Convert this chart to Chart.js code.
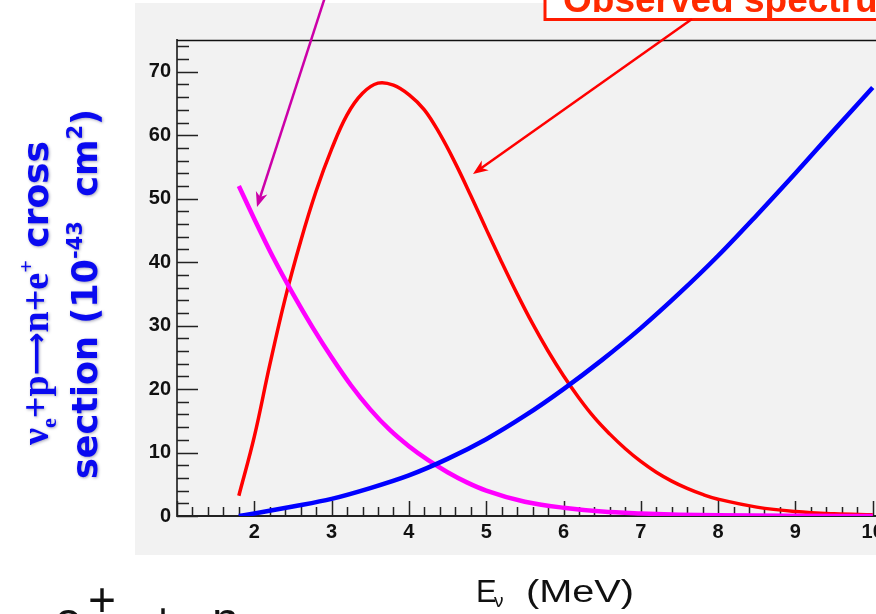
<!DOCTYPE html>
<html>
<head>
<meta charset="utf-8">
<script src="https://cdn.jsdelivr.net/npm/chart.js@4.4.1/dist/chart.umd.min.js"></script>
<style>
  html, body { margin: 0; padding: 0; background: #fff; overflow: hidden; }
  canvas { display: block; }
</style>
</head>
<body>
<canvas id="xsec" width="954" height="614"></canvas>
<script>
// Observed positron spectrum (red)
var obsEnergy = [1.8, 2.0, 2.2, 2.4, 2.6, 2.8, 3.0, 3.2, 3.4, 3.6, 3.8, 4.0, 4.2, 4.4, 4.6, 4.8, 5.0, 5.2, 5.4, 5.6, 5.8, 6.0, 6.2, 6.4, 6.6, 6.8, 7.0, 7.2, 7.4, 7.6, 7.8, 8.0, 8.5, 9.0, 9.5, 10.0];
var obsSpectrum = [3.2, 12.5, 23.8, 34.3, 43.3, 51.2, 57.8, 63.2, 66.6, 68.2, 67.9, 66.4, 64.0, 60.2, 55.6, 50.5, 45.2, 40.0, 35.0, 30.3, 26.0, 22.1, 18.6, 15.5, 12.9, 10.6, 8.6, 6.9, 5.5, 4.35, 3.4, 2.65, 1.4, 0.7, 0.35, 0.2];

// Inverse beta decay cross section (blue)
var sigmaEnergy = [1.8, 2.0, 2.5, 3.0, 3.5, 4.0, 4.5, 5.0, 5.5, 6.0, 6.5, 7.0, 7.5, 8.0, 8.5, 9.0, 9.5, 10.0];
var crossSection = [0, 0.4, 1.5, 2.7, 4.4, 6.4, 9.0, 12.1, 15.8, 20, 24.6, 29.6, 35.1, 41, 47.4, 54, 60.8, 67.5];

// Reactor antineutrino flux (magenta)
var fluxEnergy = [1.8, 2.0, 2.25, 2.5, 2.75, 3.0, 3.25, 3.5, 3.75, 4.0, 4.25, 4.5, 4.75, 5.0, 5.5, 6.0, 6.5, 7.0, 7.5, 8.0, 9.0, 10.0];
var reactorFlux = [52, 46.8, 40.6, 35.0, 29.8, 25.0, 20.6, 16.8, 13.6, 11.0, 8.8, 6.9, 5.3, 4.0, 2.25, 1.3, 0.7, 0.4, 0.2, 0.1, 0.03, 0.01];

// tick labels
var xTickLabels = [2, 3, 4, 5, 6, 7, 8, 9, 10];
var yTickLabels = [0, 10, 20, 30, 40, 50, 60, 70];

function toPoints(xs, ys) {
  return xs.map(function (x, i) { return { x: x, y: ys[i] }; });
}

function arrow(ctx, x1, y1, x2, y2, color, width) {
  var ang = Math.atan2(y2 - y1, x2 - x1);
  var len = 15, half = 6;
  var c = Math.cos(ang), s = Math.sin(ang);
  ctx.save();
  ctx.strokeStyle = color;
  ctx.fillStyle = color;
  ctx.lineWidth = width;
  ctx.beginPath();
  ctx.moveTo(x1, y1);
  ctx.lineTo(x2 - c * len * 0.6, y2 - s * len * 0.6);
  ctx.stroke();
  ctx.beginPath();
  ctx.moveTo(x2, y2);
  ctx.lineTo(x2 - c * len + s * half, y2 - s * len - c * half);
  ctx.lineTo(x2 - c * len * 0.7, y2 - s * len * 0.7);
  ctx.lineTo(x2 - c * len - s * half, y2 - s * len + c * half);
  ctx.closePath();
  ctx.fill();
  ctx.restore();
}

// draws a rotated line of mixed-font text, centred on cy
function rotatedRuns(ctx, runs, baseX, cy) {
  ctx.save();
  ctx.translate(baseX, cy);
  ctx.rotate(-Math.PI / 2);
  ctx.textBaseline = "alphabetic";
  ctx.textAlign = "left";
  var total = 0;
  runs.forEach(function (r) { ctx.font = r.f; r.w = ctx.measureText(r.t).width; total += r.w; });
  var x = -total / 2;
  runs.forEach(function (r) { ctx.font = r.f; ctx.fillText(r.t, x, r.dy || 0); x += r.w; });
  ctx.restore();
}

var rootStyle = {
  id: "rootStyle",
  beforeDraw: function (chart) {
    var ctx = chart.ctx;
    ctx.save();
    ctx.fillStyle = "#fff";
    ctx.fillRect(0, 0, chart.width, chart.height);
    ctx.fillStyle = "#f2f2f2";
    ctx.fillRect(135, 3, chart.width - 135, 552);
    ctx.restore();
  },
  beforeDatasetsDraw: function (chart) {
    var ctx = chart.ctx, a = chart.chartArea;
    var xs = chart.scales.x, ys = chart.scales.y;
    ctx.save();
    ctx.strokeStyle = "#222";
    ctx.lineWidth = 1.5;
    ctx.beginPath();
    // inward ticks on the x axis, minor every 0.2
    for (var i = 5; i <= 55; i++) {
      var px = Math.round(xs.getPixelForValue(i / 5)) + 0.5;
      var l = (i % 5 === 0) ? 15 : 9;
      ctx.moveTo(px, a.bottom);
      ctx.lineTo(px, a.bottom - l);
    }
    // inward ticks on the y axis, minor every 2
    for (var j = 0; j <= 37; j++) {
      var py = Math.round(ys.getPixelForValue(j * 2)) + 0.5;
      var ly = (j % 5 === 0) ? 21 : 12;
      ctx.moveTo(a.left, py);
      ctx.lineTo(a.left + ly, py);
    }
    ctx.stroke();
    // top edge of the frame
    ctx.strokeStyle = "#111";
    ctx.beginPath();
    ctx.moveTo(a.left, a.top + 0.5);
    ctx.lineTo(a.right, a.top + 0.5);
    ctx.stroke();
    ctx.restore();
  },
  afterDraw: function (chart) {
    var ctx = chart.ctx;
    ctx.save();

    // y axis title, two rotated lines
    ctx.fillStyle = "#0a0af0";
    ctx.shadowColor = "rgba(0,0,60,0.35)";
    ctx.shadowBlur = 3;
    ctx.shadowOffsetX = 1;
    ctx.shadowOffsetY = 1;
    rotatedRuns(ctx, [
      { t: "\u03BD", f: 'bold 38px "Liberation Serif"' },
      { t: "e", f: 'bold 22px "Liberation Serif"', dy: 8 },
      { t: "+p", f: 'bold 38px "Liberation Serif"' },
      { t: "\u27F6", f: 'bold 30px "DejaVu Sans"', dy: -2 },
      { t: "n+e", f: 'bold 38px "Liberation Serif"' },
      { t: "+", f: 'bold 22px "Liberation Serif"', dy: -15 },
      { t: " cross", f: 'bold 36px "DejaVu Sans"' }
    ], 48, 293);
    rotatedRuns(ctx, [
      { t: "section (10", f: 'bold 35px "DejaVu Sans"' },
      { t: "-43", f: 'bold 21px "DejaVu Sans"', dy: -15 },
      { t: "  cm", f: 'bold 35px "DejaVu Sans"' },
      { t: "2", f: 'bold 21px "DejaVu Sans"', dy: -15 },
      { t: ")", f: 'bold 35px "DejaVu Sans"' }
    ], 97, 294);
    ctx.shadowColor = "transparent";

    // x axis title
    ctx.fillStyle = "#111";
    ctx.textBaseline = "alphabetic";
    ctx.font = '31px "Liberation Sans"';
    ctx.fillText("E", 476, 602);
    ctx.font = '19px "Liberation Sans"';
    ctx.fillText("\u03BD", 494, 607);
    ctx.save();
    ctx.translate(526, 602);
    ctx.scale(1.28, 1);
    ctx.font = '31px "Liberation Sans"';
    ctx.fillText("(MeV)", 0, 0);
    ctx.restore();

    // bottom-left fragment of the slide text
    ctx.font = '48px "Liberation Sans"';
    ctx.fillText("\u2192", -25, 634);
    ctx.fillText("e", 55, 636);
    ctx.fillText("+", 88, 616);
    ctx.fillText("+", 149, 636);
    ctx.fillText("n", 212, 636);

    // "Observed spectrum" box at the top
    ctx.fillStyle = "#fff";
    ctx.fillRect(545, -10, chart.width, 29.5);
    ctx.strokeStyle = "#ff1a00";
    ctx.lineWidth = 3;
    ctx.strokeRect(545, -10, chart.width, 29.5);
    ctx.fillStyle = "#ff2a00";
    ctx.font = 'bold 37px "Liberation Sans"';
    ctx.fillText("Observed spectrum", 563, 12);

    // arrows
    arrow(ctx, 326, -6, 257, 207, "#cc00a8", 2.5);
    arrow(ctx, 692, 19, 473, 174, "#ff0000", 2.5);
    ctx.restore();
  }
};

var ctx = document.getElementById("xsec").getContext("2d");
var xsecChart = new Chart(ctx, {
  type: "line",
  data: {
    datasets: [
      {
        label: "cross section",
        data: toPoints(sigmaEnergy, crossSection),
        borderColor: "#0000ff",
        borderWidth: 4.5,
        pointRadius: 0,
        cubicInterpolationMode: "monotone",
        fill: false
      },
      {
        label: "reactor flux",
        data: toPoints(fluxEnergy, reactorFlux),
        borderColor: "#ff00ff",
        borderWidth: 4.5,
        pointRadius: 0,
        cubicInterpolationMode: "monotone",
        fill: false
      },
      {
        label: "observed spectrum",
        data: toPoints(obsEnergy, obsSpectrum),
        borderColor: "#ff0000",
        borderWidth: 3.5,
        pointRadius: 0,
        tension: 0.4,
        fill: false
      }
    ]
  },
  options: {
    responsive: false,
    animation: false,
    layout: { padding: { left: 135, top: 40, right: 0, bottom: 0 } },
    plugins: {
      legend: { display: false },
      tooltip: { enabled: false }
    },
    scales: {
      x: {
        type: "linear",
        min: 1,
        max: 11,
        grid: { display: false, drawTicks: false },
        border: { display: true, color: "#222", width: 2 },
        ticks: {
          stepSize: 1,
          padding: 4,
          color: "#111",
          font: { family: "Liberation Sans", size: 20, weight: "bold" },
          maxRotation: 0,
          autoSkip: false,
          callback: function (v) { return xTickLabels.indexOf(v) >= 0 ? String(v) : ""; }
        },
        afterFit: function (scale) { scale.height = 98; }
      },
      y: {
        min: 0,
        max: 75,
        grid: { display: false, drawTicks: false },
        border: { display: true, color: "#444", width: 2 },
        ticks: {
          stepSize: 10,
          padding: 6,
          color: "#111",
          font: { family: "Liberation Sans", size: 20, weight: "bold" },
          callback: function (v) { return yTickLabels.indexOf(v) >= 0 ? String(v) : ""; }
        },
        afterFit: function (scale) { scale.width = 42; }
      }
    }
  },
  plugins: [rootStyle]
});
</script>
</body>
</html>
